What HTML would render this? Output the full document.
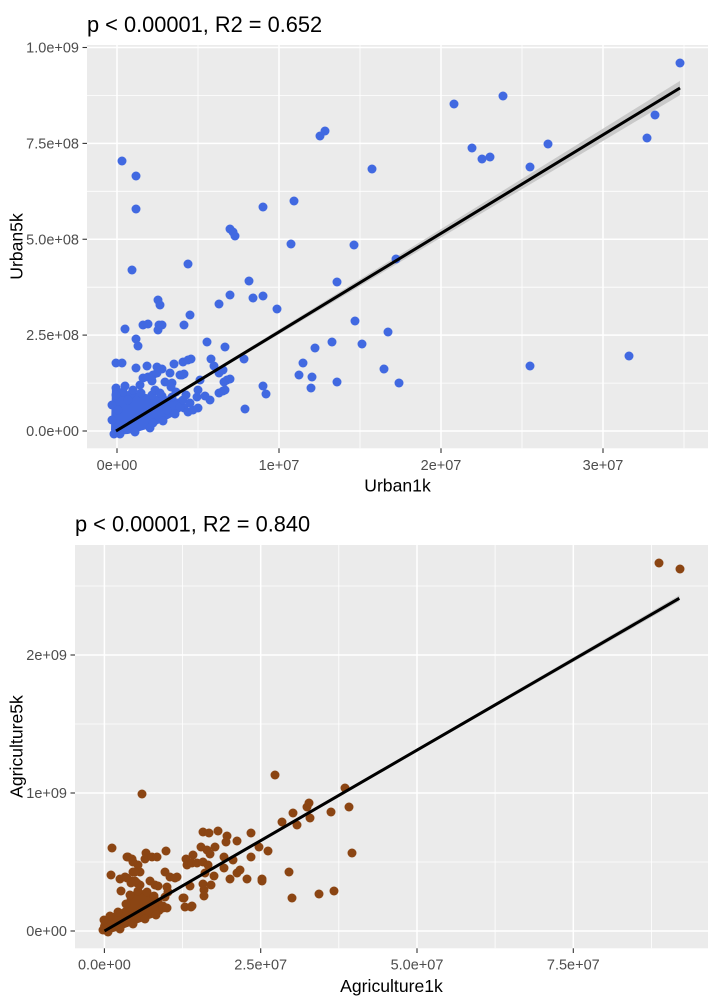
<!DOCTYPE html>
<html>
<head>
<meta charset="utf-8">
<style>
html,body{margin:0;padding:0;background:#fff;}
svg{display:block;}
text{font-family:"Liberation Sans",Arial,sans-serif;}
svg circle{r:4.5px;}
</style>
</head>
<body>
<svg width="711" height="1001" viewBox="0 0 711 1001" xmlns="http://www.w3.org/2000/svg">
<rect x="0" y="0" width="711" height="1001" fill="#ffffff"/>

<!-- ================= TOP PANEL ================= -->
<text x="87" y="32" font-size="21.8" fill="#000">p &lt; 0.00001, R2 = 0.652</text>
<rect x="87" y="45" width="621" height="403.3" fill="#EBEBEB"/>
<g stroke="#ffffff" stroke-width="0.8">
<line x1="87" x2="708" y1="383.1" y2="383.1"/>
<line x1="87" x2="708" y1="287.2" y2="287.2"/>
<line x1="87" x2="708" y1="191.3" y2="191.3"/>
<line x1="87" x2="708" y1="95.5" y2="95.5"/>
<line y1="45" y2="448.3" x1="198" x2="198"/>
<line y1="45" y2="448.3" x1="360" x2="360"/>
<line y1="45" y2="448.3" x1="522" x2="522"/>
<line y1="45" y2="448.3" x1="684" x2="684"/>
</g>
<g stroke="#ffffff" stroke-width="1.5">
<line x1="87" x2="708" y1="431" y2="431"/>
<line x1="87" x2="708" y1="335.1" y2="335.1"/>
<line x1="87" x2="708" y1="239.25" y2="239.25"/>
<line x1="87" x2="708" y1="143.4" y2="143.4"/>
<line x1="87" x2="708" y1="47.5" y2="47.5"/>
<line y1="45" y2="448.3" x1="117" x2="117"/>
<line y1="45" y2="448.3" x1="279" x2="279"/>
<line y1="45" y2="448.3" x1="441" x2="441"/>
<line y1="45" y2="448.3" x1="603" x2="603"/>
</g>
<polygon fill="#C9C9C9" points="116,429.5 200,378.2 300,316.5 400,254.5 500,192.5 600,130.5 680,80.9 680,95.1 600,142.7 500,202.3 400,262.1 300,321.7 200,381.6 116,432.5"/>
<g fill="#4169E1">
<path d="M112,386 L118,386 L122,392 L130,394 L138,392 L146,394 L155,396 L165,396 L175,398 L183,400 L186,406 L180,412 L170,418 L160,423 L150,428 L140,431 L128,434 L114,435 L111,430 Z"/>
<circle cx="116" cy="388" r="4.2"/><circle cx="123" cy="392" r="4.2"/><circle cx="131" cy="394" r="4.2"/><circle cx="141" cy="393" r="4.2"/><circle cx="152" cy="395" r="4.2"/><circle cx="162" cy="396" r="4.2"/><circle cx="172" cy="397" r="4.2"/><circle cx="182" cy="401" r="4.2"/><circle cx="184" cy="408" r="4.2"/><circle cx="175" cy="414" r="4.2"/><circle cx="163" cy="421" r="4.2"/><circle cx="150" cy="428" r="4.2"/><circle cx="135" cy="432" r="4.2"/><circle cx="120" cy="434" r="4.2"/><circle cx="114" cy="434" r="4.2"/><circle cx="112" cy="420" r="4.2"/><circle cx="112" cy="405" r="4.2"/>
<circle cx="680" cy="63" r="4.2"/><circle cx="503" cy="96" r="4.2"/><circle cx="454" cy="104" r="4.2"/><circle cx="472" cy="148" r="4.2"/><circle cx="482" cy="159" r="4.2"/><circle cx="490" cy="157" r="4.2"/><circle cx="548" cy="144" r="4.2"/><circle cx="655" cy="115" r="4.2"/><circle cx="647" cy="138" r="4.2"/><circle cx="530" cy="167" r="4.2"/><circle cx="122" cy="161" r="4.2"/><circle cx="136" cy="176" r="4.2"/><circle cx="320" cy="136" r="4.2"/><circle cx="325" cy="131" r="4.2"/><circle cx="372" cy="169" r="4.2"/>
<circle cx="136" cy="209" r="4.2"/><circle cx="263" cy="207" r="4.2"/><circle cx="294" cy="201" r="4.2"/><circle cx="230" cy="229" r="4.2"/><circle cx="233" cy="232" r="4.2"/><circle cx="235" cy="236" r="4.2"/><circle cx="291" cy="244" r="4.2"/><circle cx="354" cy="245" r="4.2"/><circle cx="132" cy="270" r="4.2"/><circle cx="188" cy="264" r="4.2"/><circle cx="396" cy="259" r="4.2"/><circle cx="249" cy="281" r="4.2"/><circle cx="337" cy="282" r="4.2"/><circle cx="230" cy="295" r="4.2"/><circle cx="219" cy="304" r="4.2"/><circle cx="253" cy="298" r="4.2"/><circle cx="263" cy="296" r="4.2"/><circle cx="277" cy="309" r="4.2"/><circle cx="158" cy="300" r="4.2"/><circle cx="160" cy="305" r="4.2"/><circle cx="190" cy="315" r="4.2"/><circle cx="143" cy="325" r="4.2"/><circle cx="148" cy="324" r="4.2"/><circle cx="159" cy="325" r="4.2"/><circle cx="158" cy="330" r="4.2"/><circle cx="162" cy="325" r="4.2"/><circle cx="184" cy="325" r="4.2"/><circle cx="125" cy="329" r="4.2"/><circle cx="355" cy="321" r="4.2"/><circle cx="388" cy="332" r="4.2"/><circle cx="136" cy="339" r="4.2"/><circle cx="138" cy="346" r="4.2"/><circle cx="207" cy="342" r="4.2"/><circle cx="225" cy="347" r="4.2"/><circle cx="315" cy="348" r="4.2"/><circle cx="332" cy="342" r="4.2"/><circle cx="362" cy="344" r="4.2"/>
<circle cx="116" cy="363" r="4.2"/><circle cx="122" cy="363" r="4.2"/><circle cx="136" cy="368" r="4.2"/><circle cx="147" cy="366" r="4.2"/><circle cx="157" cy="367" r="4.2"/><circle cx="162" cy="369" r="4.2"/><circle cx="174" cy="364" r="4.2"/><circle cx="183" cy="362" r="4.2"/><circle cx="188" cy="360" r="4.2"/><circle cx="191" cy="359" r="4.2"/><circle cx="211" cy="359" r="4.2"/><circle cx="214" cy="366" r="4.2"/><circle cx="219" cy="373" r="4.2"/><circle cx="223" cy="370" r="4.2"/><circle cx="244" cy="359" r="4.2"/><circle cx="303" cy="363" r="4.2"/><circle cx="299" cy="375" r="4.2"/><circle cx="312" cy="377" r="4.2"/><circle cx="311" cy="388" r="4.2"/><circle cx="337" cy="382" r="4.2"/><circle cx="384" cy="369" r="4.2"/><circle cx="399" cy="383" r="4.2"/><circle cx="263" cy="386" r="4.2"/><circle cx="266" cy="394" r="4.2"/><circle cx="224" cy="382" r="4.2"/><circle cx="227" cy="380" r="4.2"/><circle cx="230" cy="379" r="4.2"/><circle cx="219" cy="393" r="4.2"/><circle cx="223" cy="391" r="4.2"/><circle cx="225" cy="390" r="4.2"/><circle cx="245" cy="409" r="4.2"/><circle cx="180" cy="375" r="4.2"/><circle cx="184" cy="374" r="4.2"/><circle cx="143" cy="378" r="4.2"/><circle cx="148" cy="377" r="4.2"/><circle cx="152" cy="381" r="4.2"/><circle cx="165" cy="382" r="4.2"/><circle cx="172" cy="383" r="4.2"/><circle cx="200" cy="380" r="4.2"/><circle cx="198" cy="390" r="4.2"/><circle cx="197" cy="397" r="4.2"/><circle cx="188" cy="412" r="4.2"/><circle cx="193" cy="410" r="4.2"/><circle cx="198" cy="408" r="4.2"/><circle cx="180" cy="407" r="4.2"/><circle cx="133" cy="390" r="4.2"/><circle cx="155" cy="390" r="4.2"/><circle cx="160" cy="393" r="4.2"/><circle cx="167" cy="410" r="4.2"/><circle cx="153" cy="423" r="4.2"/><circle cx="530" cy="366" r="4.2"/><circle cx="629" cy="356" r="4.2"/><circle cx="171" cy="387" r="4.2"/><circle cx="183" cy="400" r="4.2"/><circle cx="186" cy="395" r="4.2"/><circle cx="205" cy="396" r="4.2"/><circle cx="153" cy="375" r="4.2"/><circle cx="157" cy="373" r="4.2"/><circle cx="170" cy="373" r="4.2"/><circle cx="182" cy="375" r="4.2"/>
<circle cx="116" cy="395" r="4.2"/><circle cx="118" cy="410" r="4.2"/><circle cx="128" cy="400" r="4.2"/><circle cx="140" cy="385" r="4.2"/><circle cx="125" cy="386" r="4.2"/><circle cx="190" cy="403" r="4.2"/><circle cx="176" cy="392" r="4.2"/><circle cx="210" cy="400" r="4.2"/>
</g>
<line x1="116" y1="431" x2="680" y2="88" stroke="#000" stroke-width="3"/>
<g stroke="#333333" stroke-width="1.1">
<line x1="82.5" x2="87" y1="431" y2="431"/>
<line x1="82.5" x2="87" y1="335.1" y2="335.1"/>
<line x1="82.5" x2="87" y1="239.25" y2="239.25"/>
<line x1="82.5" x2="87" y1="143.4" y2="143.4"/>
<line x1="82.5" x2="87" y1="47.5" y2="47.5"/>
<line y1="448.3" y2="453" x1="117" x2="117"/>
<line y1="448.3" y2="453" x1="279" x2="279"/>
<line y1="448.3" y2="453" x1="441" x2="441"/>
<line y1="448.3" y2="453" x1="603" x2="603"/>
</g>
<g font-size="14.5" fill="#4D4D4D" text-anchor="end">
<text x="79" y="436">0.0e+00</text>
<text x="79" y="340.1">2.5e+08</text>
<text x="79" y="244.3">5.0e+08</text>
<text x="79" y="148.4">7.5e+08</text>
<text x="79" y="52.5">1.0e+09</text>
</g>
<g font-size="14.5" fill="#4D4D4D" text-anchor="middle">
<text x="117" y="470">0e+00</text>
<text x="279" y="470">1e+07</text>
<text x="441" y="470">2e+07</text>
<text x="603" y="470">3e+07</text>
</g>
<text x="397.5" y="491.5" font-size="17.6" text-anchor="middle" fill="#000">Urban1k</text>
<text transform="translate(22.5,246.5) rotate(-90)" font-size="17.6" text-anchor="middle" fill="#000">Urban5k</text>

<!-- ================= BOTTOM PANEL ================= -->
<text x="75" y="531.7" font-size="21.8" fill="#000">p &lt; 0.00001, R2 = 0.840</text>
<rect x="75" y="545" width="633" height="403.3" fill="#EBEBEB"/>
<g stroke="#ffffff" stroke-width="0.8">
<line x1="75" x2="708" y1="862" y2="862"/>
<line x1="75" x2="708" y1="724" y2="724"/>
<line x1="75" x2="708" y1="586" y2="586"/>
<line y1="545" y2="948.3" x1="182.5" x2="182.5"/>
<line y1="545" y2="948.3" x1="338.8" x2="338.8"/>
<line y1="545" y2="948.3" x1="495.1" x2="495.1"/>
<line y1="545" y2="948.3" x1="651.4" x2="651.4"/>
</g>
<g stroke="#ffffff" stroke-width="1.5">
<line x1="75" x2="708" y1="931" y2="931"/>
<line x1="75" x2="708" y1="793" y2="793"/>
<line x1="75" x2="708" y1="655" y2="655"/>
<line y1="545" y2="948.3" x1="104.4" x2="104.4"/>
<line y1="545" y2="948.3" x1="260.7" x2="260.7"/>
<line y1="545" y2="948.3" x1="417" x2="417"/>
<line y1="545" y2="948.3" x1="573.3" x2="573.3"/>
</g>
<polygon fill="#C9C9C9" points="104.5,929.5 400,758.5 600,641.7 679.3,595.3 679.3,601.3 600,646.7 400,761.5 104.5,932.5"/>
<g fill="#8B4513">
<path d="M100,926 L102,919 L110,914 L119,911 L126,906 L127,896 L134,891 L145,890 L153,893 L158,898 L160,904 L166,908 L162,914 L152,918 L141,922 L130,926 L120,930 L110,933 L102,934 Z"/>
<circle cx="104" cy="920" r="4.2"/><circle cx="110" cy="916" r="4.2"/><circle cx="118" cy="912" r="4.2"/><circle cx="126" cy="904" r="4.2"/><circle cx="130" cy="895" r="4.2"/><circle cx="138" cy="891" r="4.2"/><circle cx="147" cy="892" r="4.2"/><circle cx="154" cy="896" r="4.2"/><circle cx="158" cy="902" r="4.2"/><circle cx="163" cy="908" r="4.2"/><circle cx="156" cy="915" r="4.2"/><circle cx="145" cy="919" r="4.2"/><circle cx="133" cy="924" r="4.2"/><circle cx="120" cy="929" r="4.2"/><circle cx="108" cy="932" r="4.2"/><circle cx="103" cy="930" r="4.2"/>
<circle cx="659" cy="563" r="4.2"/><circle cx="680" cy="569" r="4.2"/><circle cx="275" cy="775" r="4.2"/><circle cx="142" cy="794" r="4.2"/><circle cx="345" cy="788" r="4.2"/><circle cx="349" cy="807" r="4.2"/><circle cx="331" cy="812" r="4.2"/><circle cx="307" cy="807" r="4.2"/><circle cx="309" cy="803" r="4.2"/><circle cx="293" cy="813" r="4.2"/><circle cx="310" cy="818" r="4.2"/><circle cx="282" cy="822" r="4.2"/><circle cx="297" cy="825" r="4.2"/><circle cx="352" cy="853" r="4.2"/><circle cx="112" cy="848" r="4.2"/><circle cx="203" cy="832" r="4.2"/><circle cx="209" cy="833" r="4.2"/><circle cx="218" cy="831" r="4.2"/><circle cx="227" cy="836" r="4.2"/><circle cx="226" cy="842" r="4.2"/><circle cx="237" cy="841" r="4.2"/><circle cx="251" cy="833" r="4.2"/><circle cx="259" cy="847" r="4.2"/><circle cx="268" cy="851" r="4.2"/><circle cx="251" cy="857" r="4.2"/><circle cx="166" cy="851" r="4.2"/><circle cx="127" cy="857" r="4.2"/><circle cx="132" cy="859" r="4.2"/><circle cx="146" cy="853" r="4.2"/><circle cx="145" cy="859" r="4.2"/><circle cx="152" cy="857" r="4.2"/><circle cx="157" cy="857" r="4.2"/><circle cx="138" cy="865" r="4.2"/><circle cx="133" cy="872" r="4.2"/><circle cx="140" cy="872" r="4.2"/><circle cx="111" cy="875" r="4.2"/><circle cx="120" cy="879" r="4.2"/><circle cx="125" cy="877" r="4.2"/><circle cx="132" cy="881" r="4.2"/><circle cx="137" cy="883" r="4.2"/><circle cx="140" cy="885" r="4.2"/><circle cx="150" cy="881" r="4.2"/><circle cx="155" cy="885" r="4.2"/><circle cx="158" cy="886" r="4.2"/><circle cx="165" cy="872" r="4.2"/><circle cx="170" cy="877" r="4.2"/><circle cx="177" cy="877" r="4.2"/><circle cx="121" cy="891" r="4.2"/><circle cx="167" cy="887" r="4.2"/><circle cx="168" cy="892" r="4.2"/><circle cx="165" cy="897" r="4.2"/><circle cx="186" cy="859" r="4.2"/><circle cx="187" cy="865" r="4.2"/><circle cx="192" cy="863" r="4.2"/><circle cx="201" cy="847" r="4.2"/><circle cx="207" cy="850" r="4.2"/><circle cx="210" cy="854" r="4.2"/><circle cx="215" cy="847" r="4.2"/><circle cx="193" cy="855" r="4.2"/><circle cx="197" cy="863" r="4.2"/><circle cx="203" cy="862" r="4.2"/><circle cx="208" cy="865" r="4.2"/><circle cx="224" cy="857" r="4.2"/><circle cx="233" cy="860" r="4.2"/><circle cx="224" cy="868" r="4.2"/><circle cx="214" cy="876" r="4.2"/><circle cx="205" cy="873" r="4.2"/><circle cx="237" cy="873" r="4.2"/><circle cx="240" cy="870" r="4.2"/><circle cx="230" cy="879" r="4.2"/><circle cx="247" cy="879" r="4.2"/><circle cx="262" cy="879" r="4.2"/><circle cx="262" cy="881" r="4.2"/><circle cx="289" cy="872" r="4.2"/><circle cx="203" cy="884" r="4.2"/><circle cx="211" cy="885" r="4.2"/><circle cx="204" cy="890" r="4.2"/><circle cx="204" cy="896" r="4.2"/><circle cx="190" cy="886" r="4.2"/><circle cx="184" cy="898" r="4.2"/><circle cx="185" cy="907" r="4.2"/><circle cx="192" cy="906" r="4.2"/><circle cx="163" cy="906" r="4.2"/><circle cx="167" cy="908" r="4.2"/><circle cx="292" cy="898" r="4.2"/><circle cx="319" cy="894" r="4.2"/><circle cx="334" cy="891" r="4.2"/><circle cx="128" cy="857" r="4.2"/><circle cx="133" cy="862" r="4.2"/><circle cx="135" cy="872" r="4.2"/><circle cx="127" cy="878" r="4.2"/><circle cx="135" cy="881" r="4.2"/><circle cx="131" cy="883" r="4.2"/><circle cx="175" cy="878" r="4.2"/><circle cx="183" cy="898" r="4.2"/><circle cx="191" cy="907" r="4.2"/>
</g>
<line x1="104.5" y1="931" x2="679.3" y2="598.3" stroke="#000" stroke-width="3"/>
<g stroke="#333333" stroke-width="1.1">
<line x1="70.5" x2="75" y1="931" y2="931"/>
<line x1="70.5" x2="75" y1="793" y2="793"/>
<line x1="70.5" x2="75" y1="655" y2="655"/>
<line y1="948.3" y2="953" x1="104.4" x2="104.4"/>
<line y1="948.3" y2="953" x1="260.7" x2="260.7"/>
<line y1="948.3" y2="953" x1="417" x2="417"/>
<line y1="948.3" y2="953" x1="573.3" x2="573.3"/>
</g>
<g font-size="14.5" fill="#4D4D4D" text-anchor="end">
<text x="67" y="936">0e+00</text>
<text x="67" y="798">1e+09</text>
<text x="67" y="660">2e+09</text>
</g>
<g font-size="14.5" fill="#4D4D4D" text-anchor="middle">
<text x="104.4" y="969.5">0.0e+00</text>
<text x="260.7" y="969.5">2.5e+07</text>
<text x="417" y="969.5">5.0e+07</text>
<text x="573.3" y="969.5">7.5e+07</text>
</g>
<text x="391.5" y="992" font-size="17.6" text-anchor="middle" fill="#000">Agriculture1k</text>
<text transform="translate(22.5,746.5) rotate(-90)" font-size="17.6" text-anchor="middle" fill="#000">Agriculture5k</text>
</svg>
</body>
</html>
